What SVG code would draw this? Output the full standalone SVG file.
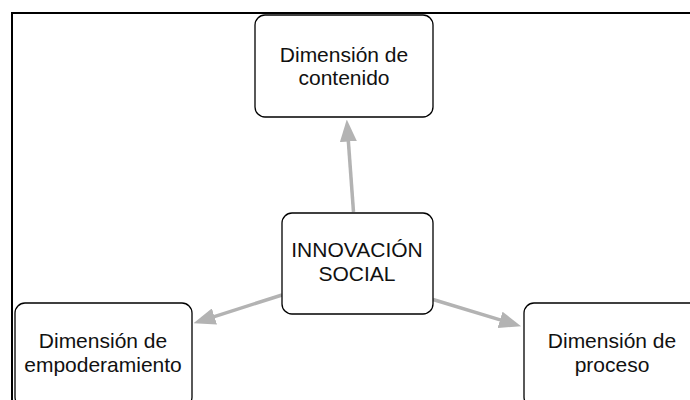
<svg xmlns="http://www.w3.org/2000/svg" width="690" height="400" viewBox="0 0 690 400">
  <style>
    .node rect { fill: #ffffff; stroke: #000000; stroke-width: 1.3; }
    .node text { font-family: "Liberation Sans", Arial, sans-serif; font-size: 21px; fill: #111111; text-anchor: middle; }
    .conn line { stroke: #b3b3b3; stroke-width: 3.5; fill: none; }
  </style>
  <defs>
    <marker id="arrow" viewBox="0 0 22 17" refX="1" refY="8.5" markerWidth="22" markerHeight="17" markerUnits="userSpaceOnUse" orient="auto">
      <path d="M0,0 L22,8.5 L0,17 z" fill="#b3b3b3"/>
    </marker>
  </defs>
  <rect x="0" y="0" width="690" height="400" fill="#ffffff"/>
  <rect id="frame" x="12" y="13" width="700" height="400" fill="none" stroke="#000000" stroke-width="2"/>

  <g id="connectors" class="conn">
    <line x1="353.5" y1="212" x2="348.3" y2="140.5" marker-end="url(#arrow)"/>
    <line x1="282" y1="295" x2="213.5" y2="316.8" marker-end="url(#arrow)"/>
    <line x1="433" y1="299.5" x2="501" y2="320.1" marker-end="url(#arrow)"/>
  </g>

  <g id="node-contenido" class="node">
    <rect x="255" y="15" width="178" height="102" rx="10" ry="10"/>
    <text x="344" y="62">Dimensión de</text>
    <text x="344" y="85">contenido</text>
  </g>

  <g id="node-innovacion" class="node">
    <rect x="282" y="213" width="151" height="101" rx="10" ry="10"/>
    <text x="357" y="257">INNOVACIÓN</text>
    <text x="357" y="281">SOCIAL</text>
  </g>

  <g id="node-empoderamiento" class="node">
    <rect x="15" y="303" width="177" height="104" rx="10" ry="10"/>
    <text x="103" y="348">Dimensión de</text>
    <text x="103" y="372">empoderamiento</text>
  </g>

  <g id="node-proceso" class="node">
    <rect x="524" y="303" width="178" height="104" rx="10" ry="10"/>
    <text x="612" y="348">Dimensión de</text>
    <text x="612" y="372">proceso</text>
  </g>
</svg>
